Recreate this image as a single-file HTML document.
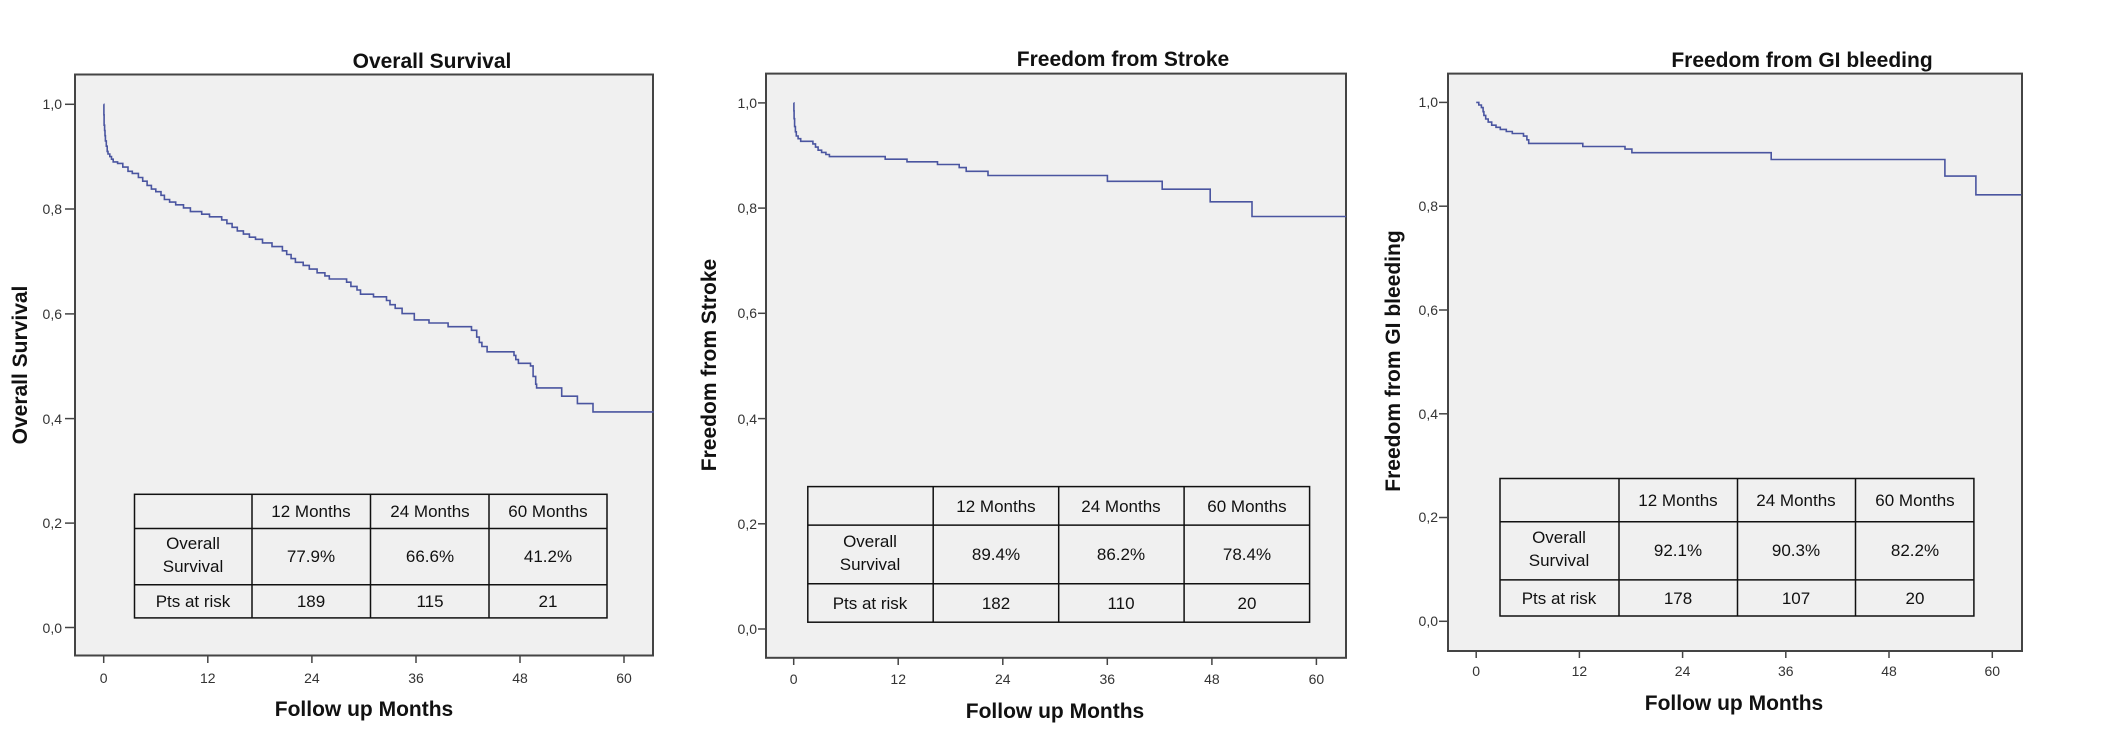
<!DOCTYPE html>
<html><head><meta charset="utf-8"><style>
html,body{margin:0;padding:0;background:#fff;}
svg{display:block;font-family:"Liberation Sans",Arial,sans-serif;}
.t{font-weight:bold;font-size:21px;fill:#111;}
.tk{font-size:14px;fill:#333;}
.tb{font-size:17px;fill:#111;}
</style></head><body>
<svg width="2120" height="754" viewBox="0 0 2120 754" xmlns="http://www.w3.org/2000/svg">
<!-- Chart 1 -->
<rect x="75" y="74.5" width="578" height="581" fill="#f0f0f0" stroke="#444" stroke-width="2"/>
<text class="t" x="432" y="68" text-anchor="middle">Overall Survival</text>
<text class="t" x="364" y="716" text-anchor="middle">Follow up Months</text>
<text class="t" transform="translate(27,365) rotate(-90)" text-anchor="middle">Overall Survival</text>
<g class="tk" text-anchor="end">
<text x="62" y="109">1,0</text><text x="62" y="214">0,8</text><text x="62" y="319">0,6</text><text x="62" y="424">0,4</text><text x="62" y="528">0,2</text><text x="62" y="633">0,0</text></g>
<g stroke="#444" stroke-width="1.5"><line x1="65" y1="104.3" x2="75" y2="104.3"/><line x1="65" y1="209" x2="75" y2="209"/><line x1="65" y1="313.9" x2="75" y2="313.9"/><line x1="65" y1="418.6" x2="75" y2="418.6"/><line x1="65" y1="523.1" x2="75" y2="523.1"/><line x1="65" y1="627.5" x2="75" y2="627.5"/>
<line x1="103.7" y1="655.5" x2="103.7" y2="663"/><line x1="207.8" y1="655.5" x2="207.8" y2="663"/><line x1="311.9" y1="655.5" x2="311.9" y2="663"/><line x1="416" y1="655.5" x2="416" y2="663"/><line x1="520" y1="655.5" x2="520" y2="663"/><line x1="624" y1="655.5" x2="624" y2="663"/></g>
<g class="tk" text-anchor="middle"><text x="103.7" y="683">0</text><text x="207.8" y="683">12</text><text x="311.9" y="683">24</text><text x="416" y="683">36</text><text x="520" y="683">48</text><text x="624" y="683">60</text></g>
<path id="p1" fill="none" stroke="#4a55a0" stroke-width="1.6"/>
<g fill="none" stroke="#111" stroke-width="1.5"><rect x="134.5" y="494.3" width="472.5" height="123.6"/><line x1="134.5" y1="528.5" x2="607" y2="528.5"/><line x1="134.5" y1="584.7" x2="607" y2="584.7"/><line x1="252" y1="494.3" x2="252" y2="617.9"/><line x1="370.5" y1="494.3" x2="370.5" y2="617.9"/><line x1="489" y1="494.3" x2="489" y2="617.9"/></g>
<g class="tb" text-anchor="middle"><text x="311" y="517">12 Months</text><text x="430" y="517">24 Months</text><text x="548" y="517">60 Months</text>
<text x="193" y="549">Overall</text><text x="193" y="572">Survival</text><text x="311" y="562">77.9%</text><text x="430" y="562">66.6%</text><text x="548" y="562">41.2%</text>
<text x="193" y="607">Pts at risk</text><text x="311" y="607">189</text><text x="430" y="607">115</text><text x="548" y="607">21</text></g>

<!-- Chart 2 -->
<rect x="766" y="73.6" width="580" height="584.2" fill="#f0f0f0" stroke="#444" stroke-width="2"/>
<text class="t" x="1123" y="66" text-anchor="middle">Freedom from Stroke</text>
<text class="t" x="1055" y="718" text-anchor="middle">Follow up Months</text>
<text class="t" transform="translate(716,365) rotate(-90)" text-anchor="middle">Freedom from Stroke</text>
<g class="tk" text-anchor="end">
<text x="757" y="108">1,0</text><text x="757" y="213">0,8</text><text x="757" y="318">0,6</text><text x="757" y="424">0,4</text><text x="757" y="529">0,2</text><text x="757" y="634">0,0</text></g>
<g stroke="#444" stroke-width="1.5"><line x1="758" y1="102.9" x2="766" y2="102.9"/><line x1="758" y1="208.1" x2="766" y2="208.1"/><line x1="758" y1="313.3" x2="766" y2="313.3"/><line x1="758" y1="418.6" x2="766" y2="418.6"/><line x1="758" y1="523.8" x2="766" y2="523.8"/><line x1="758" y1="629" x2="766" y2="629"/>
<line x1="793.7" y1="657.8" x2="793.7" y2="665"/><line x1="898.2" y1="657.8" x2="898.2" y2="665"/><line x1="1002.8" y1="657.8" x2="1002.8" y2="665"/><line x1="1107.3" y1="657.8" x2="1107.3" y2="665"/><line x1="1211.9" y1="657.8" x2="1211.9" y2="665"/><line x1="1316.4" y1="657.8" x2="1316.4" y2="665"/></g>
<g class="tk" text-anchor="middle"><text x="793.7" y="684">0</text><text x="898.2" y="684">12</text><text x="1002.8" y="684">24</text><text x="1107.3" y="684">36</text><text x="1211.9" y="684">48</text><text x="1316.4" y="684">60</text></g>
<path id="p2" fill="none" stroke="#4a55a0" stroke-width="1.6"/>
<g fill="none" stroke="#111" stroke-width="1.5"><rect x="807.8" y="486.6" width="501.8" height="135.6"/><line x1="807.8" y1="525.1" x2="1309.6" y2="525.1"/><line x1="807.8" y1="583.8" x2="1309.6" y2="583.8"/><line x1="933.2" y1="486.6" x2="933.2" y2="622.2"/><line x1="1058.7" y1="486.6" x2="1058.7" y2="622.2"/><line x1="1184.1" y1="486.6" x2="1184.1" y2="622.2"/></g>
<g class="tb" text-anchor="middle"><text x="996" y="512">12 Months</text><text x="1121" y="512">24 Months</text><text x="1247" y="512">60 Months</text>
<text x="870" y="547">Overall</text><text x="870" y="570">Survival</text><text x="996" y="560">89.4%</text><text x="1121" y="560">86.2%</text><text x="1247" y="560">78.4%</text>
<text x="870" y="609">Pts at risk</text><text x="996" y="609">182</text><text x="1121" y="609">110</text><text x="1247" y="609">20</text></g>

<!-- Chart 3 -->
<rect x="1448" y="73.6" width="574" height="577.4" fill="#f0f0f0" stroke="#444" stroke-width="2"/>
<text class="t" x="1802" y="67" text-anchor="middle">Freedom from GI bleeding</text>
<text class="t" x="1734" y="710" text-anchor="middle">Follow up Months</text>
<text class="t" transform="translate(1400,361) rotate(-90)" text-anchor="middle">Freedom from GI bleeding</text>
<g class="tk" text-anchor="end">
<text x="1438" y="107">1,0</text><text x="1438" y="211">0,8</text><text x="1438" y="315">0,6</text><text x="1438" y="419">0,4</text><text x="1438" y="522">0,2</text><text x="1438" y="626">0,0</text></g>
<g stroke="#444" stroke-width="1.5"><line x1="1439" y1="102.4" x2="1448" y2="102.4"/><line x1="1439" y1="206.2" x2="1448" y2="206.2"/><line x1="1439" y1="310" x2="1448" y2="310"/><line x1="1439" y1="413.8" x2="1448" y2="413.8"/><line x1="1439" y1="517.5" x2="1448" y2="517.5"/><line x1="1439" y1="621.3" x2="1448" y2="621.3"/>
<line x1="1476.2" y1="651" x2="1476.2" y2="658"/><line x1="1579.4" y1="651" x2="1579.4" y2="658"/><line x1="1682.6" y1="651" x2="1682.6" y2="658"/><line x1="1785.8" y1="651" x2="1785.8" y2="658"/><line x1="1889" y1="651" x2="1889" y2="658"/><line x1="1992.3" y1="651" x2="1992.3" y2="658"/></g>
<g class="tk" text-anchor="middle"><text x="1476.2" y="676">0</text><text x="1579.4" y="676">12</text><text x="1682.6" y="676">24</text><text x="1785.8" y="676">36</text><text x="1889" y="676">48</text><text x="1992.3" y="676">60</text></g>
<path id="p3" fill="none" stroke="#4a55a0" stroke-width="1.6"/>
<g fill="none" stroke="#111" stroke-width="1.5"><rect x="1500" y="478.5" width="473.9" height="137.5"/><line x1="1500" y1="521.7" x2="1973.9" y2="521.7"/><line x1="1500" y1="579.9" x2="1973.9" y2="579.9"/><line x1="1619" y1="478.5" x2="1619" y2="616"/><line x1="1737.5" y1="478.5" x2="1737.5" y2="616"/><line x1="1855.5" y1="478.5" x2="1855.5" y2="616"/></g>
<g class="tb" text-anchor="middle"><text x="1678" y="506">12 Months</text><text x="1796" y="506">24 Months</text><text x="1915" y="506">60 Months</text>
<text x="1559" y="543">Overall</text><text x="1559" y="566">Survival</text><text x="1678" y="556">92.1%</text><text x="1796" y="556">90.3%</text><text x="1915" y="556">82.2%</text>
<text x="1559" y="604">Pts at risk</text><text x="1678" y="604">178</text><text x="1796" y="604">107</text><text x="1915" y="604">20</text></g>
</svg>
<script>
function mk(id,x0,px12,y1,y0,steps,end){
  var pm=px12/12, py=(y0-y1);
  function X(m){return x0+m*pm} function Y(v){return y0-v*py}
  var d="M"+X(0)+","+Y(1);
  for(var i=0;i<steps.length;i++){var s=steps[i];d+=" H"+X(s[0]).toFixed(1)+" V"+Y(s[1]).toFixed(1);}
  d+=" H"+X(end).toFixed(1);
  document.getElementById(id).setAttribute("d",d);
}
mk("p1",103.7,104.1,104.3,627.5,[[0.02,0.98],[0.05,0.96],[0.1,0.95],[0.15,0.94],[0.2,0.93],[0.3,0.92],[0.4,0.91],[0.5,0.905],[0.7,0.9],[0.9,0.895],[1.1,0.89],[1.6,0.887],[2.2,0.88],[2.8,0.872],[3.3,0.868],[4,0.86],[4.5,0.853],[5,0.845],[5.5,0.838],[6,0.833],[6.6,0.826],[7,0.818],[7.6,0.813],[8.3,0.808],[9.2,0.802],[10,0.795],[11.3,0.79],[12.2,0.785],[13.6,0.779],[14.2,0.772],[14.8,0.765],[15.4,0.758],[16.1,0.752],[16.8,0.746],[17.5,0.742],[18.3,0.735],[19.4,0.728],[20.6,0.72],[21.1,0.713],[21.6,0.705],[22.1,0.698],[23,0.692],[23.7,0.685],[24.6,0.678],[25.5,0.672],[26,0.666],[28,0.66],[28.5,0.652],[29.2,0.645],[29.6,0.637],[31.1,0.632],[32.6,0.625],[33,0.617],[33.6,0.61],[34.4,0.6],[35.8,0.588],[37.5,0.582],[39.7,0.575],[42.4,0.568],[43,0.555],[43.3,0.545],[43.6,0.537],[44.2,0.527],[47.3,0.52],[47.5,0.512],[47.8,0.505],[49.2,0.5],[49.5,0.48],[49.8,0.465],[49.9,0.458],[52.8,0.442],[54.6,0.428],[56.4,0.412]],63.4);
mk("p2",793.7,104.55,102.9,629,[[0.02,0.985],[0.05,0.97],[0.1,0.955],[0.2,0.945],[0.3,0.937],[0.5,0.932],[0.8,0.927],[2.2,0.922],[2.5,0.916],[2.8,0.91],[3.2,0.906],[3.7,0.902],[4.1,0.898],[10.5,0.893],[13,0.888],[16.5,0.883],[19,0.877],[19.8,0.87],[22.3,0.862],[36,0.851],[42.3,0.836],[47.8,0.812],[52.6,0.784]],63.4);
mk("p3",1476.2,103.2,102.4,621.3,[[0.3,0.995],[0.6,0.99],[0.8,0.982],[0.9,0.975],[1.1,0.968],[1.4,0.962],[1.8,0.956],[2.3,0.952],[2.8,0.948],[3.5,0.944],[4.2,0.94],[5.5,0.935],[5.9,0.928],[6.1,0.921],[12.4,0.915],[17.3,0.91],[18.1,0.903],[34.3,0.89],[54.5,0.858],[58.1,0.822]],63.4);
</script>
</body></html>
